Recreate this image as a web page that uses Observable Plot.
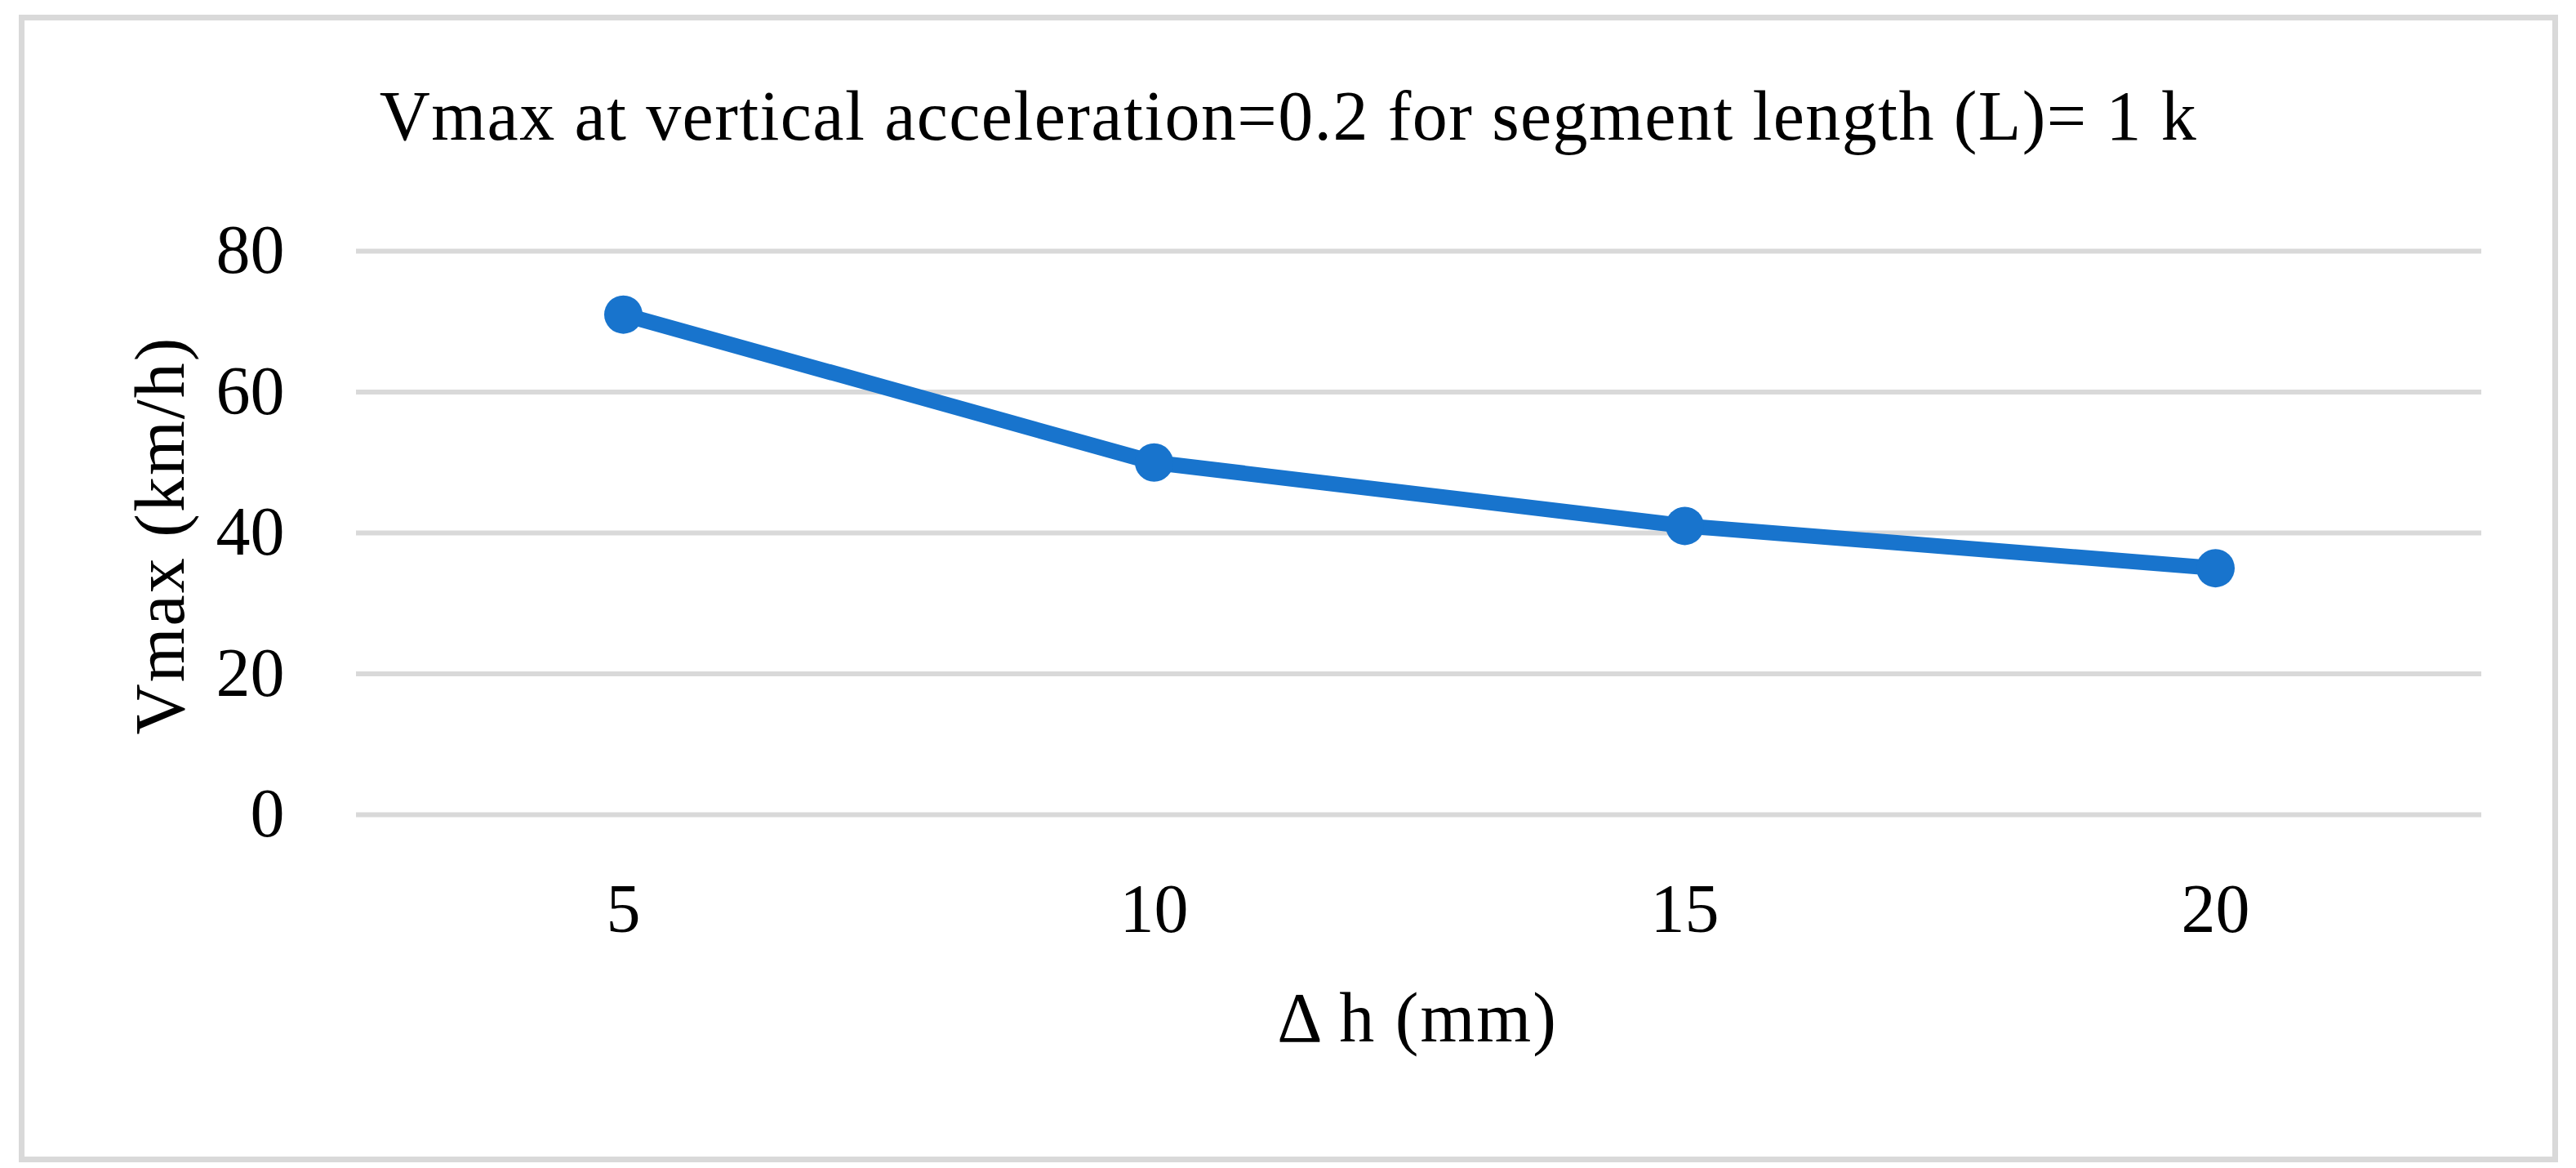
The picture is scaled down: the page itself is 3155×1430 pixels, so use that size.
<!DOCTYPE html>
<html>
<head>
<meta charset="utf-8">
<script src="https://cdn.jsdelivr.net/npm/d3@7"></script>
<script src="https://cdn.jsdelivr.net/npm/@observablehq/plot@0.6"></script>
<style>
  html, body { margin: 0; padding: 0; background: #ffffff; }
  #wrap { position: relative; width: 3155px; height: 1430px; background: #ffffff; overflow: hidden; }
  #border { position: absolute; left: 23px; top: 18px; width: 3096px; height: 1391px; border: 7px solid #d9d9d9; box-sizing: content-box; }
  #title { position: absolute; left: 0; width: 3156px; top: 99px; text-align: center;
           font-family: "Liberation Serif", "DejaVu Serif", serif; font-size: 86px; line-height: 86px;
           letter-spacing: 1.4px; color: #000; white-space: nowrap; }
  #chart { position: absolute; left: 0; top: 0; }
  #chart g[aria-label="text"] text { letter-spacing: 2px; }
</style>
</head>
<body>
<div id="wrap">
  <div id="border"></div>
  <div id="title"></div>
  <div id="chart"></div>
</div>
<script>
const titleText = "Vmax at vertical acceleration=0.2 for segment length (L)= 1 k";
const xLabel = "Δ h (mm)";
const yLabel = "Vmax (km/h)";
const categories = ["5", "10", "15", "20"];
const vmax = [71.0, 50.0, 41.0, 35.0];
const yTicks = [0, 20, 40, 60, 80];

const data = categories.map((c, i) => ({dh: c, v: vmax[i]}));
const blue = "#1874cd";

document.getElementById("title").textContent = titleText;

const chart = Plot.plot({
  width: 3155,
  height: 1430,
  marginLeft: 436,
  marginRight: 116,
  marginTop: 307,
  marginBottom: 433,
  style: {fontFamily: "'Liberation Serif', 'DejaVu Serif', serif", fontSize: "84px", color: "#000", background: "transparent", overflow: "visible"},
  x: {type: "point", domain: categories, padding: 0.5, label: null},
  y: {domain: [0, 80], label: null},
  marks: [
    Plot.ruleY(yTicks, {stroke: "#d9d9d9", strokeWidth: 6}),
    Plot.axisY({ticks: yTicks, tickSize: 0, tickPadding: 88, fontSize: 84, label: null}),
    Plot.axisX({tickSize: 0, tickPadding: 84, fontSize: 84, label: null}),
    Plot.line(data, {x: "dh", y: "v", stroke: blue, strokeWidth: 19, strokeLinejoin: "round"}),
    Plot.dot(data, {x: "dh", y: "v", r: 23.5, fill: blue, stroke: "none"}),
    Plot.text([yLabel], {frameAnchor: "left", rotate: -90, dx: -239, dy: 3, fontSize: 86, textAnchor: "middle", fill: "#000"}),
    Plot.text([xLabel], {frameAnchor: "bottom", lineAnchor: "bottom", dy: 277, dx: -2, fontSize: 86, fill: "#000"})
  ]
});
document.getElementById("chart").appendChild(chart);
</script>
</body>
</html>
